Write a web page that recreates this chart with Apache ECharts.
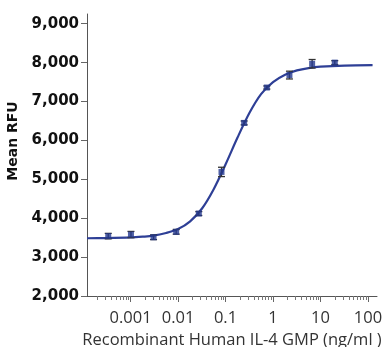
<!DOCTYPE html>
<html>
<head>
<meta charset="utf-8">
<script src="https://cdn.jsdelivr.net/npm/echarts@6/dist/echarts.min.js"></script>
<style>
  html, body { margin: 0; padding: 0; background: #fff; }
  #chart { width: 388px; height: 347px; }
</style>
</head>
<body>
<div id="chart"></div>
<script>
// Dose–response of IL-4 GMP: 3-fold dilution series, mean RFU with error bars
const concentrations = [0.000339, 0.00102, 0.00305, 0.00914, 0.0274, 0.0823, 0.247, 0.741, 2.22, 6.67, 20];
const meanRFU = [3540, 3580, 3510, 3650, 4120, 5190, 6450, 7360, 7680, 7970, 8000];
const errRFU = [70, 80, 60, 60, 50, 120, 50, 40, 100, 110, 50];

// Fitted curve, read along its path
const fitConc = [0.000121, 0.0003, 0.001, 0.0018, 0.003, 0.0056, 0.01, 0.018, 0.032, 0.056, 0.1, 0.18, 0.32, 0.56, 1, 1.8, 3.2, 5.6, 10, 32, 125];
const fitRFU = [3485, 3490, 3505, 3525, 3550, 3620, 3720, 3920, 4250, 4740, 5380, 6080, 6710, 7190, 7500, 7690, 7800, 7860, 7895, 7925, 7935];

// Axis ticks
const xDecades = [0.001, 0.01, 0.1, 1, 10, 100];
const xTickLabels = ['0.001', '0.01', '0.1', '1', '10', '100'];
const yTicks = [2000, 3000, 4000, 5000, 6000, 7000, 8000, 9000];

const xMin = 0.000121, xMax = 155;
const yMin = 2000, yMax = 9250;

// minor log ticks (2..9 per decade) inside the axis range
const xMinor = [];
for (let e = -4; e <= 2; e++) {
  for (let m = 2; m <= 9; m++) {
    const v = m * Math.pow(10, e);
    if (v > xMin && v < xMax) xMinor.push(v);
  }
}

const pointData = concentrations.map((c, i) => [c, meanRFU[i]]);
const errData = concentrations.map((c, i) => [c, meanRFU[i] - errRFU[i], meanRFU[i] + errRFU[i]]);
const fitData = fitConc.map((c, i) => [c, fitRFU[i]]);

function decadeLabel(v) {
  let best = 0;
  for (let i = 1; i < xDecades.length; i++) {
    if (Math.abs(Math.log10(v) - Math.log10(xDecades[i])) < Math.abs(Math.log10(v) - Math.log10(xDecades[best]))) best = i;
  }
  return xTickLabels[best];
}

const chart = echarts.init(document.getElementById('chart'), null, { renderer: 'canvas' });

chart.setOption({
  animation: false,
  backgroundColor: '#ffffff',
  grid: { left: 87, right: 11, top: 14, bottom: 51, containLabel: false, outerBoundsMode: 'none' },
  xAxis: [
    {
      type: 'log',
      logBase: 10,
      min: xMin,
      max: xMax,
      name: 'Recombinant Human IL-4 GMP (ng/ml )',
      nameLocation: 'middle',
      nameGap: 36,
      nameTextStyle: { fontFamily: 'Open Sans', fontSize: 16.5, color: '#333' },
      axisLine: { show: true, lineStyle: { color: '#555', width: 1 } },
      axisTick: { show: true, length: 6, inside: false, customValues: xDecades, lineStyle: { color: '#666' } },
      axisLabel: {
        customValues: xDecades,
        formatter: v => decadeLabel(v),
        fontFamily: 'Open Sans', fontSize: 16.5, color: '#333', margin: 14
      },
      splitLine: { show: false }
    },
    {
      type: 'log',
      logBase: 10,
      min: xMin,
      max: xMax,
      position: 'bottom',
      axisLine: { show: false },
      axisTick: { show: true, length: 4, customValues: xMinor, lineStyle: { color: '#777' } },
      axisLabel: { show: false },
      splitLine: { show: false }
    }
  ],
  yAxis: {
    type: 'value',
    min: yMin,
    max: yMax,
    name: 'Mean RFU',
    nameLocation: 'middle',
    nameRotate: 90,
    nameGap: 62,
    nameTextStyle: { fontFamily: 'DejaVu Sans', fontWeight: 'bold', fontSize: 14, color: '#111', padding: [0, 0, 0, 28] },
    axisLine: { show: true, lineStyle: { color: '#555', width: 1 } },
    axisTick: { show: true, length: 6, customValues: yTicks, lineStyle: { color: '#666' } },
    axisLabel: {
      customValues: yTicks,
      formatter: v => Math.round(v).toLocaleString('en-US'),
      fontFamily: 'DejaVu Sans', fontWeight: 'bold', fontSize: 15, color: '#111', margin: 8
    },
    splitLine: { show: false }
  },
  series: [
    {
      type: 'line',
      data: fitData,
      smooth: 0.3,
      showSymbol: false,
      lineStyle: { color: '#2e3f96', width: 2.2 },
      z: 2
    },
    {
      type: 'custom',
      data: errData,
      z: 3,
      renderItem: function (params, api) {
        const x = api.value(0);
        const lo = api.coord([x, api.value(1)]);
        const hi = api.coord([x, api.value(2)]);
        const cap = 3.5;
        const style = { stroke: '#333', lineWidth: 1.3 };
        return {
          type: 'group',
          children: [
            { type: 'line', shape: { x1: lo[0], y1: lo[1], x2: hi[0], y2: hi[1] }, style },
            { type: 'line', shape: { x1: lo[0] - cap, y1: lo[1], x2: lo[0] + cap, y2: lo[1] }, style },
            { type: 'line', shape: { x1: hi[0] - cap, y1: hi[1], x2: hi[0] + cap, y2: hi[1] }, style }
          ]
        };
      }
    },
    {
      type: 'scatter',
      data: pointData,
      symbol: 'rect',
      symbolSize: 6,
      itemStyle: { color: '#24388f' },
      z: 4
    }
  ]
});
</script>
</body>
</html>
